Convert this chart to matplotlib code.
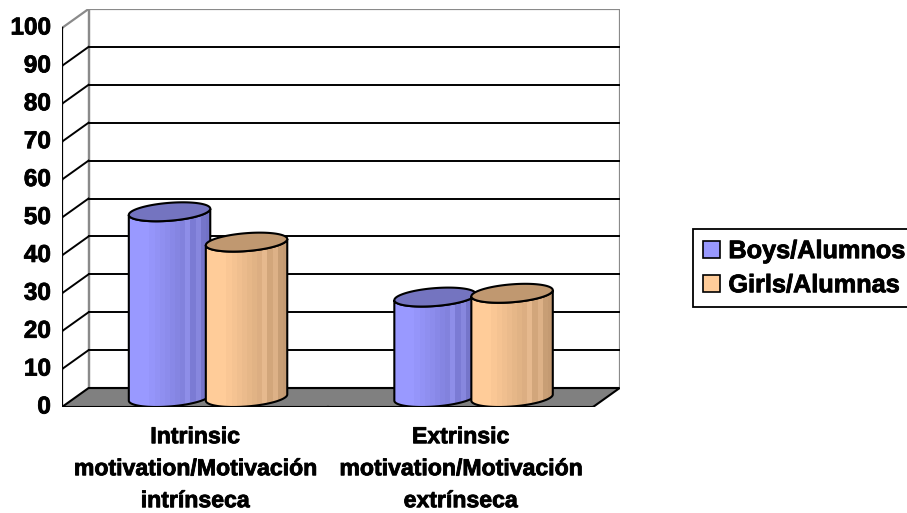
import numpy as np
import matplotlib
matplotlib.use("Agg")
import matplotlib.pyplot as plt
import matplotlib.patheffects as pe
from matplotlib.patches import Polygon, Rectangle
from matplotlib.colors import ListedColormap, to_rgb

plt.rcParams['font.family'] = ['Liberation Sans', 'DejaVu Sans']
plt.rcParams['font.weight'] = 'bold'

# data
categories = ['Intrinsic\nmotivation/Motivación\nintrínseca',
              'Extrinsic\nmotivation/Motivación\nextrínseca']
series_names = ['Boys/Alumnos', 'Girls/Alumnas']
boys = [49, 26.5]
girls = [41, 27.5]
y_ticks = [0, 10, 20, 30, 40, 50, 60, 70, 80, 90, 100]

# pseudo-3D style
DX, DY = 0.1, 5.0        # offset of the back wall (x units, value units)
BAR_W = 0.29
DEPTH = 1.0
side_light = ['#9999FF', '#FFCC99']
side_dark = ['#7272C6', '#C49A72']
top_col = ['#7474C0', '#C09870']
heavy = [pe.withStroke(linewidth=0.6, foreground='black')]


def band_cmap(light, dark, n=16):
    a, b = np.array(to_rgb(light)), np.array(to_rgb(dark))
    cols = []
    for i in range(n):
        f = max(0.0, (i / (n - 1) - 0.2) / 0.8)
        c = a + (b - a) * f
        if i in (n - 5, n - 3):
            c = np.clip(c + 0.06, 0, 1)
        cols.append(c)
    return ListedColormap(cols)


def cylinder(ax, x_left, h, k, z):
    cx = x_left + BAR_W / 2 + DX / 2
    cy = DY / 2
    ux, vx, vy = BAR_W / 2, DEPTH * DX / 2, DEPTH * DY / 2
    t0 = np.arctan2(vx, ux)
    tf = np.linspace(t0 + np.pi, t0 + 2 * np.pi, 80)
    ex = ux * np.cos(tf) + vx * np.sin(tf)
    ey = vy * np.sin(tf)
    body = np.vstack([np.column_stack([cx + ex, cy + ey]),
                      np.column_stack([cx + ex[::-1], cy + h + ey[::-1]])])
    body_patch = Polygon(body, closed=True, facecolor='none', edgecolor='black',
                         lw=1.5, zorder=z + 0.2)
    ax.add_patch(body_patch)
    xe = np.hypot(ux, vx)
    grad = np.arange(16).reshape(1, -1)
    im = ax.imshow(grad, extent=[cx - xe, cx + xe, 0, h + DY], aspect='auto',
                   cmap=band_cmap(side_light[k], side_dark[k]),
                   interpolation='nearest', zorder=z)
    im.set_clip_path(body_patch)
    ta = np.linspace(0, 2 * np.pi, 160)
    top = np.column_stack([cx + ux * np.cos(ta) + vx * np.sin(ta),
                           cy + h + vy * np.sin(ta)])
    ax.add_patch(Polygon(top, closed=True, facecolor=top_col[k], edgecolor='black',
                         lw=1.5, zorder=z + 0.3))


fig = plt.figure(figsize=(9.07, 5.13), dpi=100)
ax = fig.add_axes([62 / 907, 1 - 407 / 513, 557.6 / 907, 398 / 513])
ax.set_axis_off()

n_cat = len(categories)
# back wall
ax.add_patch(Rectangle((DX, DY), n_cat, 100, facecolor='white', edgecolor='#8a8a8a',
                       lw=1.6, zorder=1))
# floor
ax.add_patch(Polygon([(0, 0), (n_cat, 0), (n_cat + DX, DY), (DX, DY)], closed=True,
                     facecolor='#808080', edgecolor='black', lw=1.5, zorder=2))
# left wall
ax.plot([DX, DX], [DY, 100 + DY], color='#8a8a8a', lw=1.6, zorder=1.5)
ax.plot([0, DX], [100, 100 + DY], color='#8a8a8a', lw=1.6, zorder=1.5)
for v in y_ticks[1:-1]:
    ax.plot([DX, n_cat + DX], [v + DY, v + DY], color='black', lw=1.4, zorder=1.5)
    ax.plot([0, DX], [v, v + DY], color='black', lw=1.4, zorder=1.5)

# front value axis
ax.plot([0, 0], [0, 100], color='black', lw=1.6, zorder=3)
for v in y_ticks:
    ax.plot([-0.038, 0], [v, v], color='black', lw=1.6, zorder=3)
    ax.text(-0.042, v, str(v), ha='right', va='center', fontsize=17.5,
            fontweight='bold', path_effects=heavy)

# category ticks and labels
for i in range(n_cat + 1):
    ax.plot([i, i], [0, -2], color='black', lw=1.6, zorder=3)
for i, lab in enumerate(categories):
    ax.text(i + 0.5, -4.8, lab, ha='center', va='top', fontsize=16.6,
            fontweight='bold', linespacing=1.5, path_effects=heavy)

# cylinders
z = 4
for i in range(n_cat):
    for k, vals in enumerate([boys, girls]):
        x_left = i + 0.5 - BAR_W + k * BAR_W
        cylinder(ax, x_left, vals[i], k, z)
        z += 1

ax.set_xlim(0, n_cat + DX)
ax.set_ylim(0, 100 + DY)

handles = [Rectangle((0, 0), 1, 1, facecolor=side_light[k], edgecolor='black', lw=1.2)
           for k in range(2)]
leg = fig.legend(handles, series_names, loc='upper left',
                 bbox_to_anchor=(693 / 907, 1 - 229 / 513), borderaxespad=0,
                 fancybox=False, framealpha=1, edgecolor='black', fontsize=18.2,
                 handlelength=0.65, handleheight=0.65, handletextpad=0.35,
                 borderpad=0.4, labelspacing=0.4)
leg.get_frame().set_linewidth(1.3)
for txt in leg.get_texts():
    txt.set_path_effects(heavy)

fig.savefig('out.png', dpi=100)
